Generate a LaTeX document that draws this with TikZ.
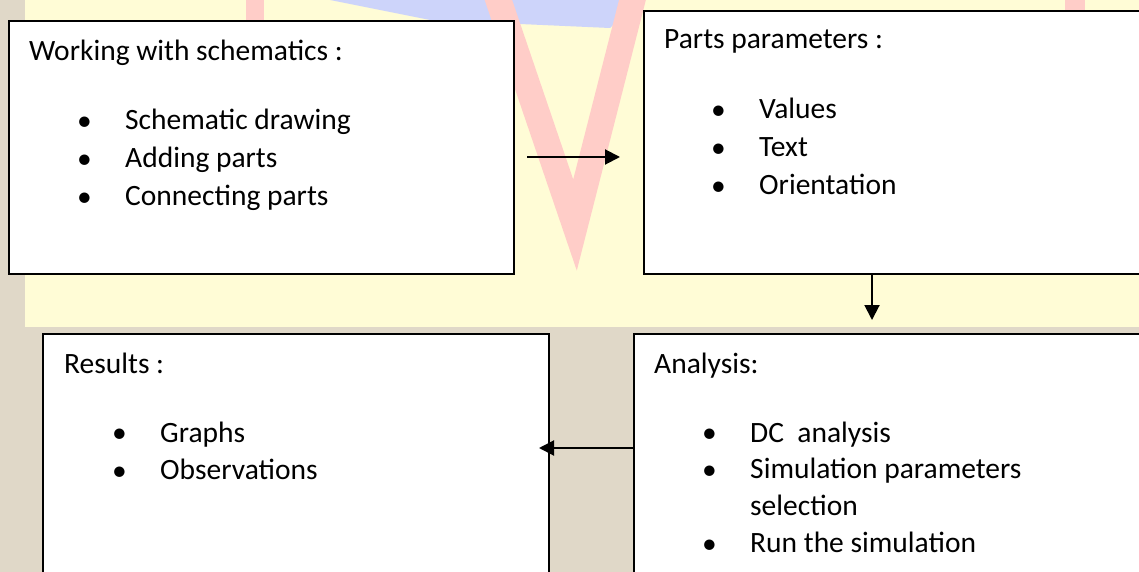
\documentclass[tikz,border=0pt]{standalone}
\usepackage{fontspec}
\setmainfont{Carlito}
\usepackage{xcolor}
\usepackage{tikz}
\usetikzlibrary{positioning,arrows.meta}

\definecolor{paper}{RGB}{224,216,200}
\definecolor{cream}{RGB}{255,252,214}
\definecolor{markred}{RGB}{255,205,200}
\definecolor{markblue}{RGB}{205,212,250}

\tikzset{
  box/.style={draw, line width=2pt, fill=white, anchor=north west, inner sep=0},
  head/.style={anchor=west, inner sep=0, text height=19pt, text depth=7pt},
  line/.style={anchor=west, inner sep=0, text height=19pt, text depth=7pt, minimum height=37.5pt},
  item/.style={line, label={[bullet]left:\textbullet}},
  bullet/.style={inner sep=0, label distance=33pt},
  link/.style={-{Triangle[length=15pt,width=15pt]}, line width=2pt},
}

\begin{document}
\begin{tikzpicture}[x=1pt, y=-1pt, font=\fontsize{29.5}{35}\selectfont]
	\useasboundingbox (0,0) rectangle (1139,572);
	\clip (0,0) rectangle (1139,572);

	% background
	\fill[paper] (0,0) rectangle (1139,572);
	\fill[cream] (25,0) rectangle (1139,327);
	\fill[markblue] (330,0) -- (640,0) -- (610,28) -- (430,20) -- cycle;
	\draw[markred, line width=26pt] (495,-10) -- (575,225) -- (635,-10);
	\draw[markred, line width=18pt] (255,0) -- (255,20);
	\draw[markred, line width=20pt] (1075,0) -- (1075,12);

	% boxes
	\node(work)[box, minimum width=505pt, minimum height=253pt] at (8,20) {};
	\node(parts)[box, minimum width=500pt, minimum height=263pt] at (643,10) {};
	\node(results)[box, minimum width=506pt, minimum height=260pt] at (42,333) {};
	\node(analysis)[box, minimum width=510pt, minimum height=260pt] at (633,333) {};

	% texts
	\node(workhead)[head] at ([shift={(21,35)}]work.north west) {Working with schematics :};
	\node(w1)[item] at ([shift={(117,104)}]work.north west) {Schematic drawing};
	\node(w2)[item, below=0pt of w1.south west, anchor=north west] {Adding parts};
	\node(w3)[item, below=0pt of w2.south west, anchor=north west] {Connecting parts};

	\node(partshead)[head] at ([shift={(21,33)}]parts.north west) {Parts parameters :};
	\node(p1)[item] at ([shift={(116,103)}]parts.north west) {Values};
	\node(p2)[item, below=0pt of p1.south west, anchor=north west] {Text};
	\node(p3)[item, below=0pt of p2.south west, anchor=north west] {Orientation};

	\node(resultshead)[head] at ([shift={(22,34)}]results.north west) {Results :};
	\node(r1)[item] at ([shift={(118,103)}]results.north west) {Graphs};
	\node(r2)[item, below=0pt of r1.south west, anchor=north west] {Observations};

	\node(analysishead)[head] at ([shift={(21,34)}]analysis.north west) {Analysis:};
	\node(a1)[item] at ([shift={(117,103)}]analysis.north west) {DC\ \ analysis};
	\node(a2)[item, below=-1pt of a1.south west, anchor=north west] {Simulation parameters};
	\node(a2b)[line, below=-1pt of a2.south west, anchor=north west] {selection};
	\node(a3)[item, below=-1pt of a2b.south west, anchor=north west] {Run the simulation};

	% arrows
	\path[link, shorten <=12pt, shorten >=23pt] ([yshift=-9.5pt]work.east) edge ([yshift=-9.5pt]work.east -| parts.west);
	\path[link, shorten >=13pt] ([xshift=229pt]parts.south west) edge ([xshift=229pt]parts.south west |- analysis.north);
	\path[link, shorten >=-11pt] ([yshift=16pt]analysis.west) edge ([yshift=16pt]analysis.west -| results.east);
\end{tikzpicture}
\end{document}
